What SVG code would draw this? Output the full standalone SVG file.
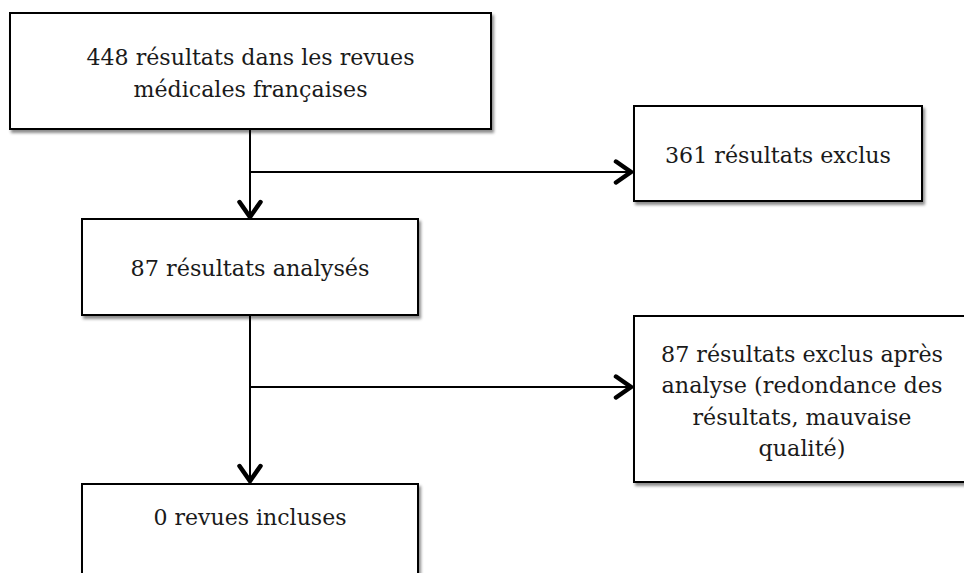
<svg xmlns="http://www.w3.org/2000/svg" width="964" height="573" viewBox="0 0 964 573">
<style>
.box{fill:#fff;stroke:#000;stroke-width:2;filter:url(#sh)}
.t{font-family:"DejaVu Serif","Liberation Serif",serif;font-size:22.5px;fill:#1a1a1a;text-anchor:middle}
.c{fill:none;stroke:#000;stroke-width:2}
</style>
<defs>
<filter id="sh" x="-5%" y="-5%" width="115%" height="120%">
<feDropShadow dx="2" dy="3" stdDeviation="1.5" flood-color="#000" flood-opacity="0.45"/>
</filter>
<marker id="ah" markerUnits="userSpaceOnUse" markerWidth="26" markerHeight="26" viewBox="0 0 26 26" refX="22" refY="13" orient="auto">
<path d="M5,2.5 L20,13 L5,23.5" fill="none" stroke="#000" stroke-width="4.5" stroke-linejoin="miter" stroke-linecap="round"/>
</marker>
</defs>
<rect width="964" height="573" fill="#fff"/>
<g id="connectors">
<line class="c" x1="250" y1="129" x2="250" y2="219" marker-end="url(#ah)"/>
<line class="c" x1="250" y1="172" x2="633" y2="172" marker-end="url(#ah)"/>
<line class="c" x1="250" y1="315" x2="250" y2="483" marker-end="url(#ah)"/>
<line class="c" x1="250" y1="387" x2="633" y2="387" marker-end="url(#ah)"/>
</g>
<g id="n1">
<rect class="box" x="10" y="13" width="481" height="116"/>
<text class="t" x="250.5" y="65" textLength="328" lengthAdjust="spacingAndGlyphs">448 résultats dans les revues</text>
<text class="t" x="250.5" y="97" textLength="234" lengthAdjust="spacingAndGlyphs">médicales françaises</text>
</g>
<g id="n2">
<rect class="box" x="634" y="106" width="288" height="95"/>
<text class="t" x="778" y="163" textLength="226" lengthAdjust="spacingAndGlyphs">361 résultats exclus</text>
</g>
<g id="n3">
<rect class="box" x="82" y="219" width="336" height="96"/>
<text class="t" x="250" y="276" textLength="239" lengthAdjust="spacingAndGlyphs">87 résultats analysés</text>
</g>
<g id="n4">
<rect class="box" x="634" y="316" width="340" height="166"/>
<text class="t" x="802" y="362" textLength="282" lengthAdjust="spacingAndGlyphs">87 résultats exclus après</text>
<text class="t" x="802" y="393" textLength="281" lengthAdjust="spacingAndGlyphs">analyse (redondance des</text>
<text class="t" x="802" y="425" textLength="219" lengthAdjust="spacingAndGlyphs">résultats, mauvaise</text>
<text class="t" x="802" y="456" textLength="87" lengthAdjust="spacingAndGlyphs">qualité)</text>
</g>
<g id="n5">
<rect class="box" x="82" y="484" width="336" height="120"/>
<text class="t" x="250" y="525" textLength="193" lengthAdjust="spacingAndGlyphs">0 revues incluses</text>
</g>
</svg>
